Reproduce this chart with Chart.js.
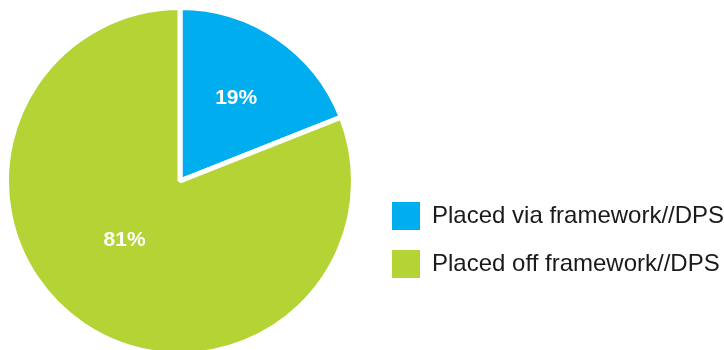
<!DOCTYPE html>
<html>
<head>
<meta charset="utf-8">
<script src="https://cdn.jsdelivr.net/npm/chart.js@4"></script>
<style>
  html, body { margin: 0; padding: 0; background: #fff; overflow: hidden; }
  body { width: 724px; height: 350px; position: relative; }
  #wrap { position: absolute; left: -12px; top: 0; width: 744px; height: 357px; }
</style>
</head>
<body>
<div id="wrap"><canvas id="pie"></canvas></div>
<script>
const categories = ["Placed via framework//DPS", "Placed off framework//DPS"];
const shares = [19, 81];
const sliceColours = ["#00AEEF", "#B4D335"];

// where each percentage sits: fraction of the radius, and a small turn in degrees
const labelSpots = [
  { r: 0.576, turn: 0 },
  { r: 0.467, turn: 9 },
];

const percentLabels = {
  id: "percentLabels",
  afterDatasetsDraw(chart) {
    const ctx = chart.ctx;
    const arcs = chart.getDatasetMeta(0).data;
    ctx.save();
    ctx.fillStyle = "#ffffff";
    ctx.font = "bold 21px 'Liberation Sans', Arial, sans-serif";
    ctx.textAlign = "center";
    ctx.textBaseline = "middle";
    arcs.forEach((arc, i) => {
      const p = arc.getProps(["x", "y", "startAngle", "endAngle", "outerRadius"], true);
      const spot = labelSpots[i];
      const mid = (p.startAngle + p.endAngle) / 2 + (spot.turn * Math.PI) / 180;
      const dist = p.outerRadius * spot.r;
      ctx.fillText(shares[i] + "%", p.x + Math.cos(mid) * dist, p.y + Math.sin(mid) * dist);
    });
    ctx.restore();
  },
};

const baseLabels = Chart.overrides.doughnut.plugins.legend.labels.generateLabels;

new Chart(document.getElementById("pie"), {
  type: "pie",
  data: {
    labels: categories,
    datasets: [
      {
        data: shares,
        backgroundColor: sliceColours,
        borderColor: "#ffffff",
        borderWidth: 5,
      },
    ],
  },
  options: {
    responsive: true,
    maintainAspectRatio: false,
    animation: false,
    layout: { padding: { top: 5 } },
    plugins: {
      tooltip: { enabled: false },
      legend: {
        position: "right",
        align: "start",
        maxWidth: 360,
        // empty title only pushes the two entries down beside the pie
        title: {
          display: true,
          text: "",
          font: { size: 12, lineHeight: 1 },
          padding: { top: 0, bottom: 165 },
        },
        labels: {
          boxWidth: 28,
          boxHeight: 28,
          padding: 20,
          color: "#1a1a1a",
          font: { size: 24, family: "'Liberation Sans', Arial, sans-serif" },
          generateLabels(chart) {
            const items = baseLabels(chart);
            items.forEach((item) => {
              item.lineWidth = 0;
              item.strokeStyle = item.fillStyle;
            });
            return items;
          },
        },
      },
    },
  },
  plugins: [percentLabels],
});
</script>
</body>
</html>
